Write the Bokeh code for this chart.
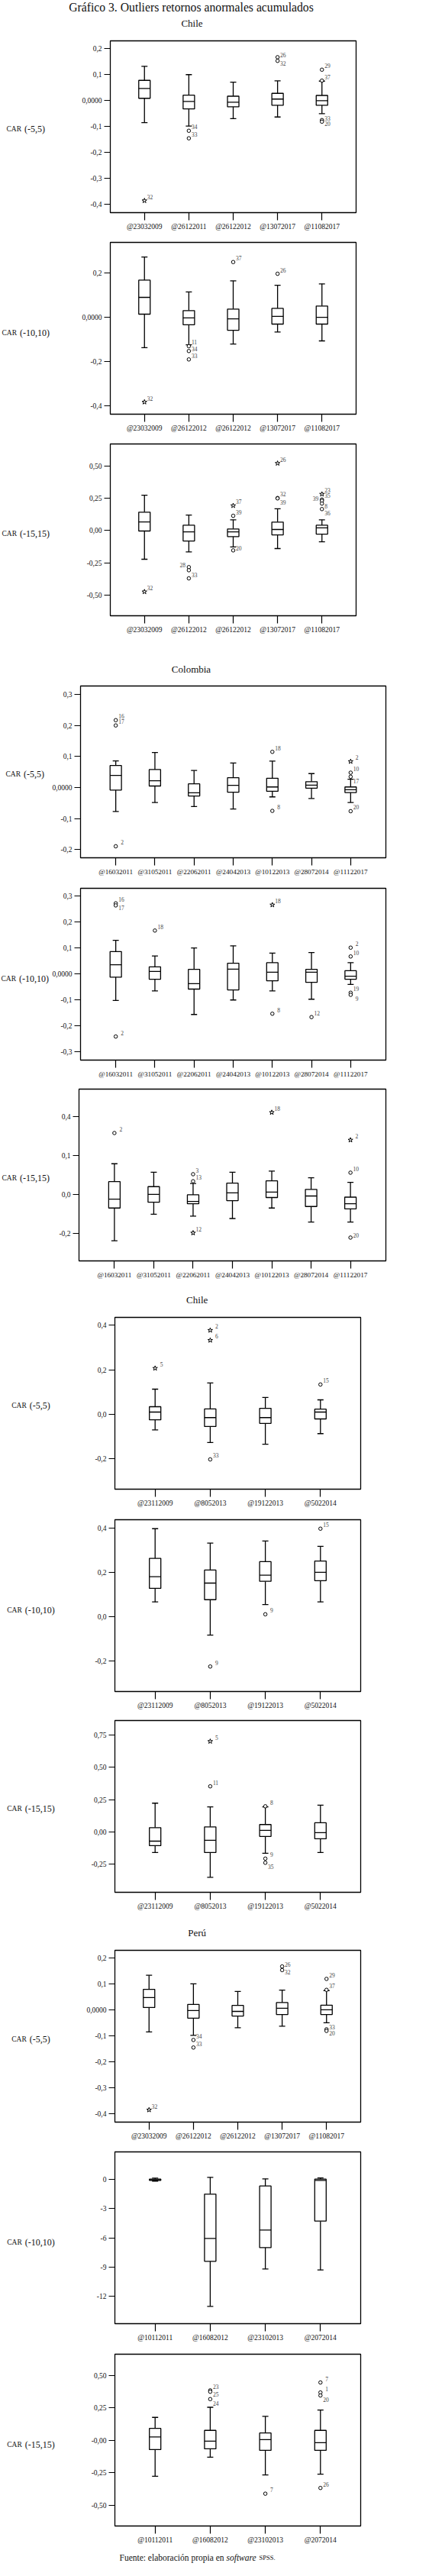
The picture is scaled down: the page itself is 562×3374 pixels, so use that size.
from bokeh.plotting import figure
from bokeh.models import Range1d, FixedTicker, ColumnDataSource
from bokeh.layouts import column, row
from bokeh.embed import file_html
from bokeh.resources import INLINE
from bokeh.core.properties import value

# ---------------------------------------------------------------- texts
TITLE = "Gráfico 3. Outliers retornos anormales acumulados"
NOTE_A = "Fuente: elaboración propia en"
NOTE_B = "software"
NOTE_C = "SPSS."
WIN_5 = "(-5,5)"
WIN_10 = "(-10,10)"
WIN_15 = "(-15,15)"

# ---------------------------------------------------------------- categories
CL_CATS_1 = ["@23032009", "@26122011", "@26122012", "@13072017", "@11082017"]
CL_CATS_2 = ["@23032009", "@26122012", "@26122012", "@13072017", "@11082017"]
CO_CATS = ["@16032011", "@31052011", "@22062011", "@24042013", "@10122013", "@28072014", "@11122017"]
CB_CATS = ["@23112009", "@8052013", "@19122013", "@5022014"]
PE_CATS_1 = ["@23032009", "@26122012", "@26122012", "@13072017", "@11082017"]
PE_CATS_2 = ["@10112011", "@16082012", "@23102013", "@2072014"]

# ---------------------------------------------------------------- Chile CAR(-5,5)
CL5_LO = [-0.085, -0.098, -0.069, -0.063, -0.050]
CL5_Q1 = [0.009, -0.032, -0.024, -0.018, -0.018]
CL5_MED = [0.047, -0.003, -0.006, 0.006, 0.000]
CL5_Q3 = [0.078, 0.021, 0.017, 0.028, 0.020]
CL5_HI = [0.132, 0.100, 0.071, 0.076, 0.075]
CL5_OUT_CAT = [1, 2, 2, 4, 4, 5, 5, 5, 5]
CL5_OUT_VAL = [-0.385, -0.116, -0.145, 0.167, 0.153, 0.119, 0.077, -0.075, -0.081]
CL5_OUT_ID = ["32", "34", "33", "26", "32", "29", "37", "33", "20"]
CL5_OUT_STAR = [1, 0, 0, 0, 0, 0, 0, 0, 0]
CL5_OUT_POS = ["u", "u", "u", "a", "b", "u", "u", "a", "b"]
CL5_TICKS = [0.2, 0.1, 0.0, -0.1, -0.2, -0.3, -0.4]
CL5_TICK_LABELS = ["0,2", "0,1", "0,0000", "-0,1", "-0,2", "-0,3", "-0,4"]
CL5_RANGE = (-0.431, 0.230)

# ---------------------------------------------------------------- Chile CAR(-10,10)
CL10_LO = [-0.137, -0.124, -0.120, -0.066, -0.106]
CL10_Q1 = [0.015, -0.033, -0.058, -0.030, -0.030]
CL10_MED = [0.091, -0.002, -0.006, 0.005, 0.001]
CL10_Q3 = [0.169, 0.031, 0.038, 0.041, 0.052]
CL10_HI = [0.274, 0.116, 0.166, 0.146, 0.152]
CL10_OUT_CAT = [1, 2, 2, 2, 3, 4]
CL10_OUT_VAL = [-0.383, -0.130, -0.152, -0.190, 0.251, 0.198]
CL10_OUT_ID = ["32", "11", "34", "33", "37", "26"]
CL10_OUT_STAR = [1, 0, 0, 0, 0, 0]
CL10_OUT_POS = ["u", "u", "a", "u", "u", "u"]
CL10_TICKS = [0.2, 0.0, -0.2, -0.4]
CL10_TICK_LABELS = ["0,2", "0,0000", "-0,2", "-0,4"]
CL10_RANGE = (-0.438, 0.340)

# ---------------------------------------------------------------- Chile CAR(-15,15)
CL15_LO = [-0.223, -0.166, -0.128, -0.140, -0.087]
CL15_Q1 = [-0.004, -0.081, -0.047, -0.034, -0.028]
CL15_MED = [0.067, -0.010, -0.010, 0.008, 0.020]
CL15_Q3 = [0.142, 0.041, 0.012, 0.065, 0.041]
CL15_HI = [0.274, 0.120, 0.083, 0.168, 0.083]
CL15_OUT_CAT = [1, 2, 2, 2, 3, 3, 3, 4, 4, 4, 5, 5, 5, 5, 5]
CL15_OUT_VAL = [-0.475, -0.284, -0.308, -0.371, 0.193, 0.114, -0.154, 0.521, 0.252, 0.249,
                0.282, 0.240, 0.230, 0.209, 0.166]
CL15_OUT_ID = ["32", "28", "", "33", "37", "39", "20", "26", "32", "39", "23", "35", "39", "8", "36"]
CL15_OUT_STAR = [1, 0, 0, 0, 1, 0, 0, 1, 0, 0, 1, 0, 0, 0, 0]
CL15_OUT_POS = ["u", "l", "u", "u", "u", "u", "a", "u", "u", "d", "u", "u", "l", "b", "d"]
CL15_TICKS = [0.5, 0.25, 0.0, -0.25, -0.5]
CL15_TICK_LABELS = ["0,50", "0,25", "0,00", "-0,25", "-0,50"]
CL15_RANGE = (-0.661, 0.671)

# ---------------------------------------------------------------- Colombia CAR(-5,5)
CO5_LO = [-0.077, -0.048, -0.061, -0.069, -0.030, -0.035, -0.048]
CO5_Q1 = [-0.008, 0.005, -0.027, -0.015, -0.012, -0.002, -0.016]
CO5_MED = [0.039, 0.022, -0.017, 0.007, 0.002, 0.008, -0.007]
CO5_Q3 = [0.071, 0.058, 0.012, 0.032, 0.030, 0.019, 0.002]
CO5_HI = [0.086, 0.113, 0.055, 0.079, 0.085, 0.045, 0.027]
CO5_OUT_CAT = [1, 1, 1, 5, 5, 7, 7, 7, 7]
CO5_OUT_VAL = [0.217, 0.200, -0.189, 0.115, -0.075, 0.084, 0.048, 0.035, -0.076]
CO5_OUT_ID = ["16", "17", "2", "18", "8", "2", "10", "17", "20"]
CO5_OUT_STAR = [0, 0, 0, 0, 0, 1, 0, 0, 0]
CO5_OUT_POS = ["u", "u", "U", "u", "U", "U", "u", "d", "u"]
CO5_TICKS = [0.3, 0.2, 0.1, 0.0, -0.1, -0.2]
CO5_TICK_LABELS = ["0,3", "0,2", "0,1", "0,0000", "-0,1", "-0,2"]
CO5_RANGE = (-0.226, 0.327)

# ---------------------------------------------------------------- Colombia CAR(-10,10)
CO10_LO = [-0.103, -0.066, -0.157, -0.101, -0.066, -0.098, -0.041]
CO10_Q1 = [-0.013, -0.021, -0.059, -0.062, -0.027, -0.033, -0.021]
CO10_MED = [0.035, 0.009, -0.038, 0.018, 0.006, 0.006, -0.009]
CO10_Q3 = [0.086, 0.027, 0.017, 0.041, 0.043, 0.017, 0.012]
CO10_HI = [0.129, 0.069, 0.100, 0.108, 0.080, 0.082, 0.043]
CO10_OUT_CAT = [1, 1, 1, 2, 5, 5, 6, 7, 7, 7, 7]
CO10_OUT_VAL = [0.272, 0.264, -0.242, 0.167, 0.266, -0.154, -0.167, 0.101, 0.067, -0.073, -0.081]
CO10_OUT_ID = ["16", "17", "2", "18", "18", "8", "12", "2", "10", "19", "9"]
CO10_OUT_STAR = [0, 0, 0, 0, 1, 0, 0, 0, 0, 0, 0]
CO10_OUT_POS = ["u", "b", "U", "u", "u", "U", "u", "U", "u", "u", "D"]
CO10_TICKS = [0.3, 0.2, 0.1, 0.0, -0.1, -0.2, -0.3]
CO10_TICK_LABELS = ["0,3", "0,2", "0,1", "0,0000", "-0,1", "-0,2", "-0,3"]
CO10_RANGE = (-0.333, 0.330)

# ---------------------------------------------------------------- Colombia CAR(-15,15)
CO15_LO = [-0.119, -0.051, -0.056, -0.062, -0.035, -0.071, -0.071]
CO15_Q1 = [-0.035, -0.020, -0.024, -0.016, -0.008, -0.031, -0.037]
CO15_MED = [-0.012, 0.000, -0.018, 0.004, 0.006, -0.004, -0.024]
CO15_Q3 = [0.033, 0.020, -0.001, 0.029, 0.035, 0.013, -0.007]
CO15_HI = [0.079, 0.057, 0.028, 0.057, 0.060, 0.043, 0.031]
CO15_OUT_CAT = [1, 3, 3, 3, 5, 7, 7, 7]
CO15_OUT_VAL = [0.158, 0.052, 0.034, -0.099, 0.211, 0.140, 0.056, -0.111]
CO15_OUT_ID = ["2", "3", "13", "12", "18", "2", "10", "20"]
CO15_OUT_STAR = [0, 0, 0, 1, 1, 1, 0, 0]
CO15_OUT_POS = ["U", "u", "u", "u", "u", "U", "u", "a"]
CO15_TICKS = [0.2, 0.1, 0.0, -0.1]
CO15_TICK_LABELS = ["0,4", "0,1", "0,0", "-0,2"]
CO15_RANGE = (-0.171, 0.271)

# ---------------------------------------------------------------- Chile (2) CAR(-5,5)
CB5_LO = [-0.070, -0.127, -0.135, -0.087]
CB5_Q1 = [-0.025, -0.055, -0.041, -0.021]
CB5_MED = [0.010, -0.015, -0.015, 0.010]
CB5_Q3 = [0.034, 0.024, 0.027, 0.023]
CB5_HI = [0.113, 0.141, 0.076, 0.065]
CB5_OUT_CAT = [1, 2, 2, 2, 4]
CB5_OUT_VAL = [0.207, 0.378, 0.333, -0.203, 0.134]
CB5_OUT_ID = ["5", "2", "6", "33", "15"]
CB5_OUT_STAR = [1, 1, 1, 0, 0]
CB5_OUT_POS = ["U", "U", "U", "u", "u"]
CB5_TICKS = [0.4, 0.2, 0.0, -0.2]
CB5_TICK_LABELS = ["0,4", "0,2", "0,0", "-0,2"]
CB5_RANGE = (-0.337, 0.436)

# ---------------------------------------------------------------- Chile (2) CAR(-10,10)
CB10_LO = [0.066, -0.084, 0.054, 0.066]
CB10_Q1 = [0.127, 0.076, 0.159, 0.162]
CB10_MED = [0.180, 0.151, 0.187, 0.200]
CB10_Q3 = [0.263, 0.210, 0.248, 0.251]
CB10_HI = [0.397, 0.332, 0.341, 0.317]
CB10_OUT_CAT = [2, 3, 4]
CB10_OUT_VAL = [-0.226, 0.010, 0.397]
CB10_OUT_ID = ["9", "9", "15"]
CB10_OUT_STAR = [0, 0, 0]
CB10_OUT_POS = ["U", "U", "u"]
CB10_TICKS = [0.4, 0.2, 0.0, -0.2]
CB10_TICK_LABELS = ["0,4", "0,2", "0,0", "-0,2"]
CB10_RANGE = (-0.339, 0.4375)

# ---------------------------------------------------------------- Chile (2) CAR(-15,15)
CB15_LO = [-0.159, -0.350, -0.165, -0.159]
CB15_Q1 = [-0.106, -0.159, -0.035, -0.053]
CB15_MED = [-0.071, -0.065, 0.012, -0.006]
CB15_Q3 = [0.033, 0.039, 0.057, 0.071]
CB15_HI = [0.222, 0.193, 0.193, 0.206]
CB15_OUT_CAT = [2, 2, 3, 3, 3]
CB15_OUT_VAL = [0.699, 0.352, 0.198, -0.206, -0.238]
CB15_OUT_ID = ["5", "11", "8", "9", "35"]
CB15_OUT_STAR = [1, 0, 0, 0, 0]
CB15_OUT_POS = ["U", "u", "U", "U", "d"]
CB15_TICKS = [0.75, 0.5, 0.25, 0.0, -0.25]
CB15_TICK_LABELS = ["0,75", "0,50", "0,25", "0,00", "-0,25"]
CB15_RANGE = (-0.466, 0.860)

# ---------------------------------------------------------------- Perú CAR(-5,5)
PE5_LO = [-0.085, -0.098, -0.069, -0.063, -0.050]
PE5_Q1 = [0.009, -0.032, -0.024, -0.018, -0.018]
PE5_MED = [0.047, -0.003, -0.006, 0.006, 0.000]
PE5_Q3 = [0.079, 0.021, 0.017, 0.028, 0.018]
PE5_HI = [0.133, 0.100, 0.071, 0.076, 0.074]
PE5_OUT_CAT = [1, 2, 2, 4, 4, 5, 5, 5, 5]
PE5_OUT_VAL = [-0.385, -0.116, -0.145, 0.167, 0.153, 0.119, 0.077, -0.075, -0.081]
PE5_OUT_ID = ["32", "34", "33", "26", "32", "29", "37", "33", "20"]
PE5_OUT_STAR = [1, 0, 0, 0, 0, 0, 0, 0, 0]
PE5_OUT_POS = ["u", "u", "u", "a", "b", "u", "u", "a", "b"]
PE5_TICKS = [0.2, 0.1, 0.0, -0.1, -0.2, -0.3, -0.4]
PE5_TICK_LABELS = ["0,2", "0,1", "0,0000", "-0,1", "-0,2", "-0,3", "-0,4"]
PE5_RANGE = (-0.432, 0.229)

# ---------------------------------------------------------------- Perú CAR(-10,10)
PE10_LO = [-0.15, -13.05, -9.2, -9.3]
PE10_Q1 = [-0.08, -8.41, -7.0, -4.27]
PE10_MED = [-0.02, -6.05, -5.19, -0.08]
PE10_Q3 = [0.05, -1.49, -0.655, 0.05]
PE10_HI = [0.15, 0.236, 0.08, 0.18]
PE10_OUT_CAT = []
PE10_OUT_VAL = []
PE10_OUT_ID = []
PE10_OUT_STAR = []
PE10_OUT_POS = []
PE10_TICKS = [0, -3, -6, -9, -12]
PE10_TICK_LABELS = ["0", "-3", "-6", "-9", "-12"]
PE10_RANGE = (-14.83, 2.856)

# ---------------------------------------------------------------- Perú CAR(-15,15)
PE15_LO = [-0.277, -0.130, -0.267, -0.261]
PE15_Q1 = [-0.071, -0.065, -0.077, -0.077]
PE15_MED = [0.026, -0.006, 0.006, -0.018]
PE15_Q3 = [0.092, 0.077, 0.057, 0.077]
PE15_HI = [0.177, 0.255, 0.185, 0.234]
PE15_OUT_CAT = [2, 2, 2, 3, 4, 4, 4, 4]
PE15_OUT_VAL = [0.385, 0.375, 0.318, -0.411, 0.446, 0.369, 0.346, -0.367]
PE15_OUT_ID = ["23", "25", "24", "7", "7", "1", "20", "26"]
PE15_OUT_STAR = [0, 0, 0, 0, 0, 0, 0, 0]
PE15_OUT_POS = ["u", "b", "d", "U", "U", "U", "d", "u"]
PE15_TICKS = [0.5, 0.25, 0.0, -0.25, -0.5]
PE15_TICK_LABELS = ["0,50", "0,25", "-0,00", "-0,25", "-0,50"]
PE15_RANGE = (-0.660, 0.664)

# ---------------------------------------------------------------- styling / layout
SERIF = "Liberation Serif"
PAGE_W = 546
INK = "#111111"
LABEL_OFFSETS = {"u": (3.5, -5), "a": (3.5, -2.5), "m": (3.5, 0), "b": (3.5, 3),
                 "d": (3.5, 5.5), "U": (6.5, -5), "D": (6.5, 5.5), "l": (-12, -3)}


def text_fig(w, h, items):
    """A blank strip whose frame is the whole figure, in pixel-like units (y downwards)."""
    f = figure(width=w, height=h, x_range=Range1d(0, w), y_range=Range1d(h, 0),
               output_backend="svg", toolbar_location=None, tools="",
               x_axis_type=None, y_axis_type=None, min_border=0)
    f.min_border_left = f.min_border_right = f.min_border_top = f.min_border_bottom = 0
    f.outline_line_color = None
    f.grid.visible = False
    f.background_fill_color = "white"
    f.border_fill_color = "white"
    for (x, y, txt, size, style, align, baseline) in items:
        f.text(x=[x], y=[y], text=[txt], text_font=value(SERIF), text_font_size=value(size),
               text_font_style=value(style), text_color=INK, text_align=value(align),
               text_baseline=value(baseline))
    return f


def panel(cats, lo, q1, med, q3, hi, ocat, oval, oid, ostar, opos, yticks, ylabels,
          yrng, xrng, win, geom, xfs, lab_x, lab_w):
    h, top, bottom, left, fw = geom
    pw = PAGE_W - lab_w
    p = figure(width=pw, height=h, x_range=Range1d(*xrng), y_range=Range1d(*yrng),
               output_backend="svg", toolbar_location=None, tools="")
    p.min_border_left = left - lab_w
    p.min_border_right = pw - (left - lab_w) - fw
    p.min_border_top = top
    p.min_border_bottom = bottom
    p.background_fill_color = "white"
    p.border_fill_color = "white"
    p.outline_line_color = "black"
    p.outline_line_width = 1.3
    p.outline_line_alpha = 1.0
    p.grid.visible = False

    ppu = fw / (xrng[1] - xrng[0])
    bw = 15.0 / ppu
    cw = 8.0 / ppu
    xs = list(range(1, len(cats) + 1))
    src = ColumnDataSource(dict(
        x=xs, lo=lo, q1=q1, med=med, q3=q3, hi=hi,
        xl=[x - bw / 2 for x in xs], xr=[x + bw / 2 for x in xs],
        cl=[x - cw / 2 for x in xs], cr=[x + cw / 2 for x in xs]))
    kw = dict(line_color="black", line_width=1.3)
    p.segment(x0="x", y0="q3", x1="x", y1="hi", source=src, **kw)
    p.segment(x0="x", y0="q1", x1="x", y1="lo", source=src, **kw)
    p.segment(x0="cl", y0="hi", x1="cr", y1="hi", source=src, **kw)
    p.segment(x0="cl", y0="lo", x1="cr", y1="lo", source=src, **kw)
    p.quad(left="xl", right="xr", top="q3", bottom="q1", source=src, fill_color="white", **kw)
    p.segment(x0="xl", y0="med", x1="xr", y1="med", source=src, **kw)

    if ocat:
        osrc = ColumnDataSource(dict(
            x=ocat, y=oval, t=oid,
            m=["star" if s else "circle" for s in ostar],
            sz=[6.5 if s else 4.5 for s in ostar],
            dx=[LABEL_OFFSETS[c][0] for c in opos],
            dy=[LABEL_OFFSETS[c][1] for c in opos]))
        p.scatter(x="x", y="y", marker="m", size="sz", source=osrc,
                  fill_color="white", line_color="black", line_width=1.0)
        p.text(x="x", y="y", text="t", x_offset="dx", y_offset="dy", source=osrc,
               text_font=value(SERIF), text_font_size="7.5px", text_color="#444444",
               text_baseline="middle", text_align="left")

    xa = p.xaxis[0]
    ya = p.yaxis[0]
    xa.ticker = FixedTicker(ticks=xs)
    xa.major_label_overrides = {x: c for x, c in zip(xs, cats)}
    ya.ticker = FixedTicker(ticks=yticks)
    ya.major_label_overrides = dict(zip(yticks, ylabels))
    for ax in (xa, ya):
        ax.axis_line_color = None
        ax.major_tick_line_color = "black"
        ax.major_tick_line_width = 1.2
        ax.minor_tick_line_color = None
        ax.major_tick_in = 0
        ax.major_label_text_font = SERIF
        ax.major_label_text_color = INK
        ax.major_label_standoff = 3
    xa.major_tick_out = 10
    ya.major_tick_out = 8
    xa.major_label_text_font_size = xfs
    ya.major_label_text_font_size = "9.5px"

    # horizontal axis title "CAR (-5,5)" with small-caps CAR, in its own strip on the left
    base = top + 128
    lab = text_fig(lab_w, h, [
        (lab_x, base, "CAR", "9.5px", "normal", "left", "alphabetic"),
        (lab_x + 23.5, base, win, "12px", "normal", "left", "alphabetic"),
    ])
    return row(lab, p, spacing=0)


XR5 = (0.23, 5.77)
XR7 = (0.1, 7.9)
XR4 = (0.27, 4.73)
LW_CL = 90
LW_CO = 65
LW_CB = 90

items = [
    text_fig(PAGE_W, 50, [(250, 9, TITLE, "15.7px", "normal", "center", "middle"),
                          (251, 30, "Chile", "13px", "normal", "center", "middle")]),
    panel(CL_CATS_1, CL5_LO, CL5_Q1, CL5_MED, CL5_Q3, CL5_HI, CL5_OUT_CAT, CL5_OUT_VAL,
          CL5_OUT_ID, CL5_OUT_STAR, CL5_OUT_POS, CL5_TICKS, CL5_TICK_LABELS, CL5_RANGE,
          XR5, WIN_5, (256, 3, 28, 144, 322), "9.5px", 8, LW_CL),
    panel(CL_CATS_2, CL10_LO, CL10_Q1, CL10_MED, CL10_Q3, CL10_HI, CL10_OUT_CAT, CL10_OUT_VAL,
          CL10_OUT_ID, CL10_OUT_STAR, CL10_OUT_POS, CL10_TICKS, CL10_TICK_LABELS, CL10_RANGE,
          XR5, WIN_10, (264, 11, 28, 144, 322), "9.5px", 2, LW_CL),
    panel(CL_CATS_2, CL15_LO, CL15_Q1, CL15_MED, CL15_Q3, CL15_HI, CL15_OUT_CAT, CL15_OUT_VAL,
          CL15_OUT_ID, CL15_OUT_STAR, CL15_OUT_POS, CL15_TICKS, CL15_TICK_LABELS, CL15_RANGE,
          XR5, WIN_15, (267, 11, 31, 144, 322), "9.5px", 2, LW_CL),
    text_fig(PAGE_W, 55, [(250, 38.7, "Colombia", "13px", "normal", "center", "middle")]),
    panel(CO_CATS, CO5_LO, CO5_Q1, CO5_MED, CO5_Q3, CO5_HI, CO5_OUT_CAT, CO5_OUT_VAL,
          CO5_OUT_ID, CO5_OUT_STAR, CO5_OUT_POS, CO5_TICKS, CO5_TICK_LABELS, CO5_RANGE,
          XR7, WIN_5, (260, 6, 29, 103, 402), "9.2px", 7, LW_CO),
    panel(CO_CATS, CO10_LO, CO10_Q1, CO10_MED, CO10_Q3, CO10_HI, CO10_OUT_CAT, CO10_OUT_VAL,
          CO10_OUT_ID, CO10_OUT_STAR, CO10_OUT_POS, CO10_TICKS, CO10_TICK_LABELS, CO10_RANGE,
          XR7, WIN_10, (264, 11, 28, 103, 402), "9.2px", 1, LW_CO),
    panel(CO_CATS, CO15_LO, CO15_Q1, CO15_MED, CO15_Q3, CO15_HI, CO15_OUT_CAT, CO15_OUT_VAL,
          CO15_OUT_ID, CO15_OUT_STAR, CO15_OUT_POS, CO15_TICKS, CO15_TICK_LABELS, CO15_RANGE,
          XR7, WIN_15, (266, 10, 31, 103, 402), "9.2px", 2, LW_CO),
    text_fig(PAGE_W, 37, [(257.7, 20.3, "Chile", "13px", "normal", "center", "middle")]),
    panel(CB_CATS, CB5_LO, CB5_Q1, CB5_MED, CB5_Q3, CB5_HI, CB5_OUT_CAT, CB5_OUT_VAL,
          CB5_OUT_ID, CB5_OUT_STAR, CB5_OUT_POS, CB5_TICKS, CB5_TICK_LABELS, CB5_RANGE,
          XR4, WIN_5, (260, 6, 29, 150, 322), "9.5px", 14.7, LW_CB),
    panel(CB_CATS, CB10_LO, CB10_Q1, CB10_MED, CB10_Q3, CB10_HI, CB10_OUT_CAT, CB10_OUT_VAL,
          CB10_OUT_ID, CB10_OUT_STAR, CB10_OUT_POS, CB10_TICKS, CB10_TICK_LABELS, CB10_RANGE,
          XR4, WIN_10, (264, 11, 28, 150, 322), "9.5px", 8.7, LW_CB),
    panel(CB_CATS, CB15_LO, CB15_Q1, CB15_MED, CB15_Q3, CB15_HI, CB15_OUT_CAT, CB15_OUT_VAL,
          CB15_OUT_ID, CB15_OUT_STAR, CB15_OUT_POS, CB15_TICKS, CB15_TICK_LABELS, CB15_RANGE,
          XR4, WIN_15, (269, 10, 34, 150, 322), "9.5px", 8.7, LW_CB),
    text_fig(PAGE_W, 36, [(257.7, 19, "Perú", "13px", "normal", "center", "middle")]),
    panel(PE_CATS_1, PE5_LO, PE5_Q1, PE5_MED, PE5_Q3, PE5_HI, PE5_OUT_CAT, PE5_OUT_VAL,
          PE5_OUT_ID, PE5_OUT_STAR, PE5_OUT_POS, PE5_TICKS, PE5_TICK_LABELS, PE5_RANGE,
          XR5, WIN_5, (259, 6, 28, 150, 322), "9.5px", 14.7, LW_CB),
    panel(PE_CATS_2, PE10_LO, PE10_Q1, PE10_MED, PE10_Q3, PE10_HI, PE10_OUT_CAT, PE10_OUT_VAL,
          PE10_OUT_ID, PE10_OUT_STAR, PE10_OUT_POS, PE10_TICKS, PE10_TICK_LABELS, PE10_RANGE,
          XR4, WIN_10, (265, 11, 29, 150, 322), "9.5px", 8.7, LW_CB),
    panel(PE_CATS_2, PE15_LO, PE15_Q1, PE15_MED, PE15_Q3, PE15_HI, PE15_OUT_CAT, PE15_OUT_VAL,
          PE15_OUT_ID, PE15_OUT_STAR, PE15_OUT_POS, PE15_TICKS, PE15_TICK_LABELS, PE15_RANGE,
          XR4, WIN_15, (264, 11, 28, 150, 322), "9.5px", 8.7, LW_CB),
    text_fig(PAGE_W, 22, [(156, 13, NOTE_A, "11.5px", "normal", "left", "middle"),
                          (296, 13, NOTE_B, "11.5px", "italic", "left", "middle"),
                          (339, 13, NOTE_C, "8.5px", "normal", "left", "middle")]),
]

layout = column(*items, spacing=0)
open("out.html", "w").write(file_html(layout, INLINE, "Gráfico 3"))
